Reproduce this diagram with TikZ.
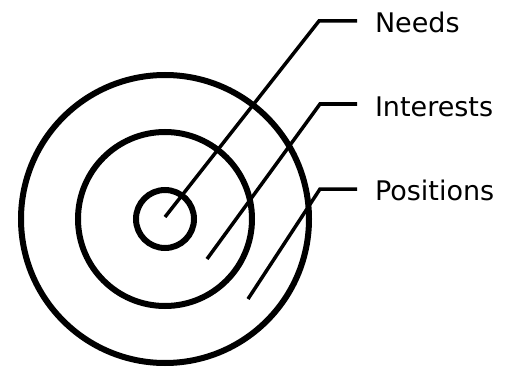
\documentclass[tikz,border=0pt]{standalone}
\usepackage{fontspec}
\setmainfont{DejaVu Sans}
\usepackage{tikz}
\usetikzlibrary{calc}
\tikzset{
    ring/.style={draw=black, line width=6pt},
    leader/.style={draw=black, line width=3.5pt, line join=miter},
    layername/.style={font=\fontsize{27}{31}\selectfont, inner xsep=0pt, inner ysep=0pt,
        outer xsep=18pt, text height=19.5pt, text depth=0pt, anchor=west},
}

\begin{document}
\begin{tikzpicture}[x=1pt, y=-1pt]
        \useasboundingbox (0,0) rectangle (509,369);
        \coordinate (core) at (165,219);
        \draw[ring] (core) circle (144);
        \draw[ring] (core) circle (87);
        \draw[ring] (core) circle (29);
        % needs
        \coordinate (needs-in) at (165,217);
        \coordinate (needs-bend) at (319,21);
        \node[layername] (needs) at (357,23) {Needs};
        \draw[leader] (needs-in) -- (needs-bend) -- (needs-bend -| needs.west);
        % interests
        \coordinate (interests-in) at (207,259);
        \coordinate (interests-bend) at (320,104);
        \node[layername] (interests) at (357,107) {Interests};
        \draw[leader] (interests-in) -- (interests-bend) -- (interests-bend -| interests.west);
        % positions
        \coordinate (positions-in) at (248,299);
        \coordinate (positions-bend) at (320,189);
        \node[layername] (positions) at (357,191) {Positions};
        \draw[leader] (positions-in) -- (positions-bend) -- (positions-bend -| positions.west);
    \end{tikzpicture}
\end{document}
